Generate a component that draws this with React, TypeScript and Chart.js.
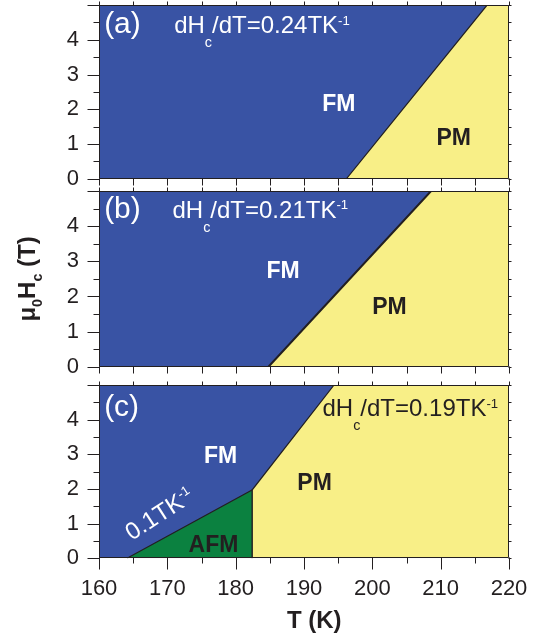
import React, { useEffect, useRef } from 'react';
import { Chart, registerables } from 'chart.js';

Chart.register(...registerables);

// ---------------- data ----------------
const T_MIN = 160;
const T_MAX = 220;
const H_MIN = 0;
const H_MAX = 5;
const T_STEP = 5;
const H_STEP = 0.5;

// FM fills each whole panel (upper edge of the panel)
const fmEdgeT = [160, 220];
const fmEdgeH = [5, 5];

// (a) FM/PM boundary, dHc/dT = 0.24 T/K
const aBoundaryT = [196.2, 216.8, 220];
const aBoundaryH = [0, 5, 5];

// (b) FM/PM boundary, dHc/dT = 0.21 T/K
const bBoundaryT = [184.8, 208.6, 220];
const bBoundaryH = [0, 5, 5];

// (c) AFM pocket and PM boundary
const cAfmT = [164.1, 182.4, 182.4];
const cAfmH = [0, 1.97, 0];
const cPmT = [182.4, 182.4, 194.4, 220];
const cPmH = [0, 1.97, 5, 5];

const BLUE = '#3953a4';
const YELLOW = '#f8ef87';
const GREEN = '#0b8140';
const INK = '#231f20';
const WHITE = '#ffffff';
const FONT = '"Liberation Sans", Arial, Helvetica, sans-serif';

type Part = { t: string; k?: 'sub' | 'sup' };
type Label = {
  parts: Part[];
  T: number;
  H: number;
  size: number;
  bold?: boolean;
  color: string;
  align: 'left' | 'center';
  base?: 'middle' | 'alphabetic';
  rot?: number;
};

const rate = (v: string): Part[] => [
  { t: 'dH' },
  { t: 'c', k: 'sub' },
  { t: '/dT=' + v + 'TK' },
  { t: '-1', k: 'sup' },
];

const labelsA: Label[] = [
  { parts: [{ t: '(a)' }], T: 160.75, H: 4.19, size: 30, color: WHITE, align: 'left', base: 'alphabetic' },
  { parts: rate('0.24'), T: 171.0, H: 4.19, size: 24, color: WHITE, align: 'left', base: 'alphabetic' },
  { parts: [{ t: 'FM' }], T: 195.1, H: 2.18, size: 23, bold: true, color: WHITE, align: 'center' },
  { parts: [{ t: 'PM' }], T: 211.9, H: 1.21, size: 23, bold: true, color: INK, align: 'center' },
];
const labelsB: Label[] = [
  { parts: [{ t: '(b)' }], T: 160.75, H: 4.23, size: 30, color: WHITE, align: 'left', base: 'alphabetic' },
  { parts: rate('0.21'), T: 170.75, H: 4.23, size: 24, color: WHITE, align: 'left', base: 'alphabetic' },
  { parts: [{ t: 'FM' }], T: 186.95, H: 2.77, size: 23, bold: true, color: WHITE, align: 'center' },
  { parts: [{ t: 'PM' }], T: 202.5, H: 1.73, size: 23, bold: true, color: INK, align: 'center' },
];
const labelsC: Label[] = [
  { parts: [{ t: '(c)' }], T: 160.75, H: 4.1, size: 30, color: WHITE, align: 'left', base: 'alphabetic' },
  { parts: rate('0.19'), T: 192.7, H: 4.1, size: 24, color: INK, align: 'left', base: 'alphabetic' },
  { parts: [{ t: 'FM' }], T: 177.8, H: 2.98, size: 23, bold: true, color: WHITE, align: 'center' },
  { parts: [{ t: 'PM' }], T: 191.55, H: 2.21, size: 23, bold: true, color: INK, align: 'center' },
  { parts: [{ t: 'AFM' }], T: 176.75, H: 0.43, size: 23, bold: true, color: INK, align: 'center' },
  { parts: [{ t: '0.1TK' }, { t: '-1', k: 'sup' }], T: 168.75, H: 1.3, size: 24, color: WHITE, align: 'center', rot: -33 },
];

const pts = (xs: number[], ys: number[]) => xs.map((x, i) => ({ x, y: ys[i] }));

// ---------------- drawing helpers ----------------
function drawRich(
  ctx: CanvasRenderingContext2D,
  parts: Part[],
  x: number,
  y: number,
  size: number,
  bold: boolean,
  color: string,
  align: 'left' | 'center',
  subDrop = 0.56,
) {
  const w = bold ? 'bold ' : '';
  const sizes = parts.map((p) => (p.k === 'sub' ? size * 0.6 : p.k === 'sup' ? size * 0.55 : size));
  const widths = parts.map((p, i) => {
    ctx.font = `${w}${sizes[i]}px ${FONT}`;
    return ctx.measureText(p.t).width;
  });
  const total = widths.reduce((a, b) => a + b, 0);
  let cx = align === 'center' ? x - total / 2 : x;
  ctx.fillStyle = color;
  ctx.textAlign = 'left';
  ctx.textBaseline = 'alphabetic';
  parts.forEach((p, i) => {
    ctx.font = `${w}${sizes[i]}px ${FONT}`;
    const dy = p.k === 'sub' ? size * subDrop : p.k === 'sup' ? -size * 0.36 : 0;
    ctx.fillText(p.t, cx, y + dy);
    cx += widths[i];
  });
}

type PanelCfg = {
  top: number;
  height: number;
  xH: number;
  bottom: boolean;
  datasets: any[];
  labels: Label[];
  yTitle?: boolean;
};

function makeOverlay(cfg: PanelCfg) {
  return {
    id: 'overlay',
    afterDraw(chart: any) {
      const ctx: CanvasRenderingContext2D = chart.ctx;
      const ca = chart.chartArea;
      const xs = chart.scales.x;
      const ys = chart.scales.y;
      ctx.save();
      // labels
      for (const l of cfg.labels) {
        const px = xs.getPixelForValue(l.T);
        const py = ys.getPixelForValue(l.H);
        const base = l.base === 'alphabetic' ? 0 : 0.358 * l.size;
        if (l.rot) {
          ctx.save();
          ctx.translate(px, py);
          ctx.rotate((l.rot * Math.PI) / 180);
          drawRich(ctx, l.parts, 0, base, l.size, !!l.bold, l.color, l.align);
          ctx.restore();
        } else {
          drawRich(ctx, l.parts, px, py + base, l.size, !!l.bold, l.color, l.align);
        }
      }
      // frame
      ctx.strokeStyle = INK;
      ctx.lineWidth = 1;
      const L = Math.round(ca.left) + 0.5;
      const R = Math.round(ca.right) - 0.5;
      const T = Math.round(ca.top) + 0.5;
      const B = Math.round(ca.bottom) - 0.5;
      ctx.beginPath();
      ctx.rect(L, T, R - L, B - T);
      ctx.stroke();
      // x ticks
      ctx.beginPath();
      for (const t of xs.ticks) {
        const p = Math.round(xs.getPixelForValue(t.value)) + 0.5;
        const major = Math.abs(t.value % 10) < 1e-6;
        const len = cfg.bottom ? (major ? 12 : 6) : 7;
        ctx.moveTo(p, B);
        ctx.lineTo(p, B + len);
        ctx.moveTo(p, T);
        ctx.lineTo(p, T - 4);
      }
      // y ticks
      for (const t of ys.ticks) {
        const p = Math.round(ys.getPixelForValue(t.value)) + 0.5;
        const major = Math.abs(t.value - Math.round(t.value)) < 1e-6;
        ctx.moveTo(L, p);
        ctx.lineTo(L - (major ? 12 : 6), p);
        ctx.moveTo(R, p);
        ctx.lineTo(R + 3, p);
      }
      ctx.stroke();
      // axis titles
      if (cfg.yTitle) {
        ctx.save();
        ctx.translate(35, (ca.top + ca.bottom) / 2);
        ctx.rotate(-Math.PI / 2);
        drawRich(
          ctx,
          [{ t: 'μ' }, { t: '0', k: 'sub' }, { t: 'H' }, { t: 'c', k: 'sub' }, { t: ' (T)' }],
          0,
          0,
          24,
          true,
          INK,
          'center',
          0.28,
        );
        ctx.restore();
      }
      if (cfg.bottom) {
        ctx.font = `bold 24px ${FONT}`;
        ctx.fillStyle = INK;
        ctx.textAlign = 'center';
        ctx.textBaseline = 'alphabetic';
        ctx.fillText('T (K)', xs.getPixelForValue(191.5), ca.bottom + 61 + 0.358 * 24);
      }
      ctx.restore();
    },
  };
}

function Panel({ cfg }: { cfg: PanelCfg }) {
  const ref = useRef<HTMLCanvasElement | null>(null);
  useEffect(() => {
    if (!ref.current) return;
    const gridOpts = {
      display: true,
      drawOnChartArea: false,
      drawTicks: true,
      tickLength: 12,
      color: 'rgba(0,0,0,0)',
      tickColor: 'rgba(0,0,0,0)',
    };
    const chart = new Chart(ref.current, {
      type: 'line',
      data: { datasets: cfg.datasets },
      options: {
        responsive: false,
        maintainAspectRatio: false,
        animation: false,
        devicePixelRatio: 1,
        events: [],
        layout: { padding: { left: 0, right: 27, top: 25, bottom: 0 } },
        plugins: { legend: { display: false }, tooltip: { enabled: false } },
        elements: { point: { radius: 0 }, line: { tension: 0 } },
        scales: {
          x: {
            type: 'linear',
            min: T_MIN,
            max: T_MAX,
            afterFit: (s: any) => {
              s.height = cfg.xH;
            },
            ticks: {
              stepSize: T_STEP,
              autoSkip: false,
              maxRotation: 0,
              minRotation: 0,
              padding: 5,
              color: INK,
              font: { family: FONT, size: 22 },
              callback: (v: any) => (cfg.bottom && Number(v) % 10 === 0 ? String(v) : ''),
            },
            grid: gridOpts,
            border: { display: false },
          },
          y: {
            type: 'linear',
            min: H_MIN,
            max: H_MAX,
            afterFit: (s: any) => {
              s.width = 99;
            },
            ticks: {
              stepSize: H_STEP,
              autoSkip: false,
              padding: 8,
              color: INK,
              font: { family: FONT, size: 22 },
              callback: (v: any) => (Number.isInteger(Number(v)) && Number(v) < H_MAX ? String(v) : ''),
            },
            grid: gridOpts,
            border: { display: false },
          },
        },
      } as any,
      plugins: [makeOverlay(cfg)],
    });
    return () => chart.destroy();
  }, []);
  return (
    <canvas
      ref={ref}
      width={536}
      height={cfg.height}
      style={{ position: 'absolute', left: 0, top: cfg.top, width: 536, height: cfg.height }}
    />
  );
}

const fmSet = () => ({
  label: 'FM',
  data: pts(fmEdgeT, fmEdgeH),
  backgroundColor: BLUE,
  borderWidth: 0,
  borderColor: BLUE,
  fill: 'start',
  order: 3,
});

const panels: PanelCfg[] = [
  {
    top: -20,
    height: 220,
    xH: 21,
    bottom: false,
    labels: labelsA,
    datasets: [
      fmSet(),
      {
        label: 'PM',
        data: pts(aBoundaryT, aBoundaryH),
        backgroundColor: YELLOW,
        borderColor: INK,
        borderWidth: 1.2,
        fill: 'start',
        order: 2,
      },
    ],
  },
  {
    top: 166,
    height: 222,
    xH: 20,
    bottom: false,
    yTitle: true,
    labels: labelsB,
    datasets: [
      fmSet(),
      {
        label: 'PM',
        data: pts(bBoundaryT, bBoundaryH),
        backgroundColor: YELLOW,
        borderColor: INK,
        borderWidth: 2,
        fill: 'start',
        order: 2,
      },
    ],
  },
  {
    top: 360,
    height: 278,
    xH: 79.7,
    bottom: true,
    labels: labelsC,
    datasets: [
      fmSet(),
      {
        label: 'PM',
        data: pts(cPmT, cPmH),
        backgroundColor: YELLOW,
        borderColor: INK,
        borderWidth: 1.2,
        fill: 'start',
        order: 2,
      },
      {
        label: 'AFM',
        data: pts(cAfmT, cAfmH),
        backgroundColor: GREEN,
        borderColor: INK,
        borderWidth: 1.2,
        fill: 'start',
        order: 1,
      },
    ],
  },
];

export default function App() {
  return (
    <div
      style={{
        position: 'fixed',
        left: 0,
        top: 0,
        width: 536,
        height: 638,
        background: '#ffffff',
        overflow: 'hidden',
      }}
    >
      {panels.map((p, i) => (
        <Panel key={i} cfg={p} />
      ))}
    </div>
  );
}
